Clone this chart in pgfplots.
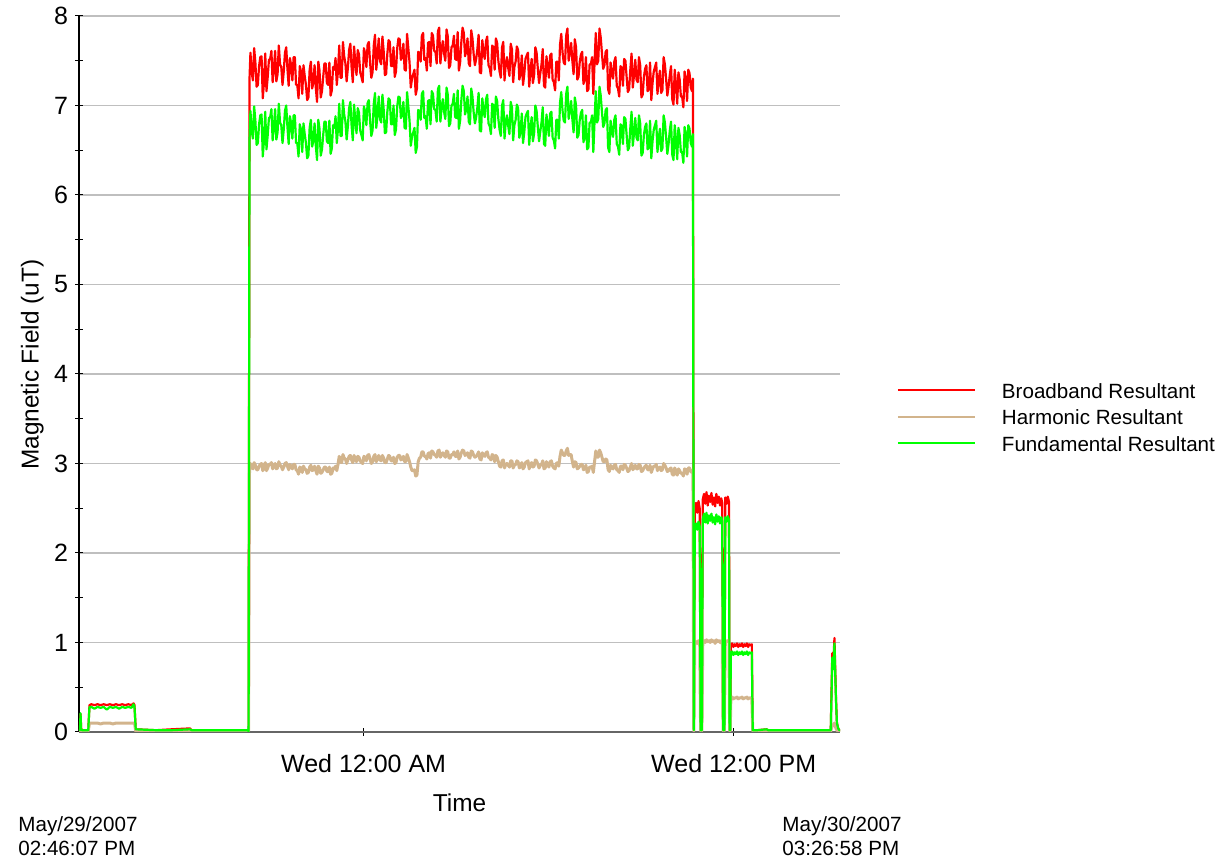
\documentclass[border=0pt]{standalone}
\usepackage{fontspec}
\setmainfont{Liberation Sans}
\usepackage{pgfplots}
\pgfplotsset{compat=1.18}
\usepackage{pgfplotstable}
\definecolor{bbred}{RGB}{255,0,0}
\definecolor{harmtan}{RGB}{210,180,140}
\definecolor{fundgreen}{RGB}{0,255,0}

\pgfplotstableread{
x b h f
0.00 0.03 0.01 0.02
0.01 0.11 0.02 0.05
0.03 0.03 0.01 0.02
0.05 0.20 0.03 0.21
0.07 0.04 0.01 0.03
0.10 0.02 0.01 0.02
0.30 0.02 0.01 0.02
0.34 0.30 0.10 0.28
0.40 0.31 0.10 0.28
0.50 0.30 0.10 0.26
0.60 0.31 0.10 0.28
0.70 0.30 0.09 0.27
0.80 0.31 0.10 0.28
0.90 0.30 0.10 0.25
1.00 0.31 0.10 0.28
1.10 0.30 0.09 0.27
1.20 0.31 0.10 0.28
1.30 0.30 0.10 0.26
1.40 0.31 0.10 0.28
1.50 0.30 0.10 0.27
1.60 0.31 0.10 0.28
1.70 0.30 0.10 0.27
1.77 0.32 0.10 0.31
1.80 0.30 0.10 0.28
1.84 0.03 0.01 0.03
2.50 0.02 0.01 0.02
3.00 0.03 0.01 0.02
3.60 0.04 0.01 0.03
3.65 0.02 0.01 0.02
4.50 0.02 0.01 0.02
5.00 0.02 0.01 0.02
5.47 0.02 0.01 0.02
5.50 0.01 0.01 0.01
5.53 7.30 2.95 6.62
5.56 7.59 3.00 6.94
5.60 7.37 2.96 6.72
5.64 7.28 2.94 6.63
5.68 7.64 3.01 6.99
5.72 7.48 2.98 6.83
5.76 7.21 2.93 6.56
5.80 7.23 2.93 6.58
5.84 7.44 2.97 6.79
5.88 7.54 2.99 6.89
5.92 7.55 3.00 6.90
5.96 7.08 2.92 6.43
6.00 7.26 2.95 6.61
6.04 7.58 3.01 6.93
6.08 7.16 2.92 6.51
6.12 7.32 2.95 6.67
6.16 7.51 2.99 6.86
6.20 7.52 2.99 6.87
6.24 7.61 3.01 6.96
6.28 7.26 2.94 6.61
6.32 7.41 2.97 6.76
6.36 7.61 3.00 6.96
6.40 7.27 2.94 6.62
6.44 7.35 2.95 6.70
6.48 7.67 3.02 7.02
6.52 7.46 2.98 6.81
6.56 7.43 2.97 6.78
6.60 7.23 2.93 6.58
6.64 7.38 2.96 6.73
6.68 7.59 3.00 6.94
6.72 7.65 3.01 7.00
6.76 7.41 2.97 6.76
6.80 7.22 2.93 6.57
6.84 7.53 2.99 6.88
6.88 7.45 2.97 6.80
6.92 7.28 2.94 6.63
6.96 7.54 2.99 6.89
7.00 7.54 2.99 6.89
7.04 7.23 2.93 6.58
7.08 7.23 2.92 6.58
7.12 7.08 2.88 6.43
7.16 7.44 2.96 6.79
7.20 7.38 2.95 6.73
7.24 7.13 2.90 6.48
7.28 7.45 2.97 6.80
7.32 7.33 2.94 6.68
7.36 7.23 2.93 6.58
7.40 7.06 2.89 6.41
7.44 7.09 2.90 6.44
7.48 7.40 2.96 6.75
7.52 7.49 2.98 6.84
7.56 7.19 2.92 6.54
7.60 7.25 2.93 6.60
7.64 7.45 2.97 6.80
7.68 7.20 2.92 6.55
7.72 7.04 2.88 6.39
7.76 7.49 2.97 6.84
7.80 7.39 2.95 6.74
7.84 7.09 2.89 6.44
7.88 7.16 2.90 6.51
7.92 7.32 2.93 6.67
7.96 7.47 2.96 6.82
8.00 7.47 2.96 6.82
8.04 7.25 2.91 6.60
8.08 7.23 2.91 6.58
8.12 7.48 2.96 6.83
8.16 7.11 2.88 6.46
8.20 7.17 2.89 6.52
8.24 7.43 2.95 6.78
8.28 7.40 2.94 6.75
8.32 7.53 2.97 6.88
8.36 7.23 2.92 6.58
8.40 7.39 2.99 6.74
8.44 7.67 3.08 7.02
8.48 7.31 3.02 6.66
8.52 7.31 3.01 6.66
8.56 7.71 3.10 7.06
8.60 7.55 3.06 6.90
8.64 7.47 3.05 6.82
8.68 7.27 3.00 6.62
8.72 7.42 3.04 6.77
8.76 7.62 3.08 6.97
8.80 7.69 3.09 7.04
8.84 7.43 3.04 6.78
8.88 7.26 3.01 6.61
8.92 7.66 3.09 7.01
8.96 7.49 3.05 6.84
9.00 7.34 3.02 6.69
9.04 7.62 3.08 6.97
9.08 7.57 3.07 6.92
9.12 7.37 3.03 6.72
9.16 7.32 3.01 6.67
9.20 7.26 3.00 6.61
9.24 7.64 3.08 6.99
9.28 7.58 3.07 6.93
9.32 7.43 3.03 6.78
9.36 7.68 3.09 7.03
9.40 7.71 3.10 7.06
9.44 7.48 3.05 6.83
9.48 7.31 3.00 6.66
9.52 7.37 3.02 6.72
9.56 7.67 3.08 7.02
9.60 7.79 3.10 7.14
9.64 7.40 3.02 6.75
9.68 7.55 3.05 6.90
9.72 7.75 3.09 7.10
9.76 7.50 3.04 6.85
9.80 7.46 3.03 6.81
9.84 7.77 3.09 7.12
9.88 7.61 3.06 6.96
9.92 7.34 3.01 6.69
9.96 7.35 3.01 6.70
10.00 7.58 3.05 6.93
10.04 7.73 3.09 7.08
10.08 7.71 3.08 7.06
10.12 7.44 3.03 6.79
10.16 7.44 3.03 6.79
10.20 7.65 3.07 7.00
10.24 7.32 3.00 6.67
10.28 7.38 3.01 6.73
10.32 7.64 3.07 6.99
10.36 7.75 3.09 7.10
10.40 7.74 3.09 7.09
10.44 7.51 3.04 6.86
10.48 7.54 3.05 6.89
10.52 7.69 3.08 7.04
10.56 7.40 3.02 6.75
10.60 7.39 3.02 6.74
10.64 7.80 3.10 7.15
10.68 7.64 3.06 6.99
10.72 7.48 3.02 6.83
10.76 7.20 2.96 6.55
10.80 7.30 2.92 6.65
10.84 7.35 2.92 6.70
10.88 7.40 2.93 6.75
10.92 7.12 2.86 6.47
10.96 7.19 2.87 6.54
11.00 7.60 3.02 6.95
11.04 7.59 3.06 6.94
11.08 7.49 3.07 6.84
11.12 7.78 3.13 7.13
11.16 7.81 3.13 7.16
11.20 7.51 3.08 6.86
11.24 7.53 3.08 6.88
11.28 7.39 3.05 6.74
11.32 7.70 3.11 7.05
11.36 7.71 3.12 7.06
11.40 7.44 3.06 6.79
11.44 7.81 3.14 7.16
11.48 7.78 3.13 7.13
11.52 7.61 3.10 6.96
11.56 7.60 3.09 6.95
11.60 7.47 3.07 6.82
11.64 7.83 3.14 7.18
11.68 7.87 3.15 7.22
11.72 7.47 3.07 6.82
11.76 7.63 3.10 6.98
11.80 7.72 3.12 7.07
11.84 7.58 3.09 6.93
11.88 7.50 3.07 6.85
11.92 7.85 3.14 7.20
11.96 7.77 3.13 7.12
12.00 7.42 3.06 6.77
12.04 7.45 3.06 6.80
12.08 7.65 3.10 7.00
12.12 7.67 3.10 7.02
12.16 7.78 3.13 7.13
12.20 7.52 3.08 6.87
12.24 7.51 3.08 6.86
12.28 7.82 3.14 7.17
12.32 7.39 3.05 6.74
12.36 7.48 3.07 6.83
12.40 7.71 3.12 7.06
12.44 7.87 3.15 7.22
12.48 7.81 3.14 7.16
12.52 7.55 3.09 6.90
12.56 7.61 3.10 6.96
12.60 7.75 3.12 7.10
12.64 7.47 3.07 6.82
12.68 7.44 3.06 6.79
12.72 7.84 3.14 7.19
12.76 7.75 3.13 7.10
12.80 7.57 3.09 6.92
12.84 7.45 3.07 6.80
12.88 7.52 3.08 6.87
12.92 7.63 3.10 6.98
12.96 7.79 3.13 7.14
13.00 7.37 3.05 6.72
13.04 7.36 3.04 6.71
13.08 7.73 3.12 7.08
13.12 7.59 3.09 6.94
13.16 7.52 3.08 6.87
13.20 7.72 3.12 7.07
13.24 7.77 3.13 7.12
13.28 7.45 3.07 6.80
13.32 7.42 3.06 6.77
13.36 7.33 3.04 6.68
13.40 7.67 3.10 7.02
13.44 7.65 3.09 7.00
13.48 7.40 3.02 6.75
13.52 7.75 3.09 7.10
13.56 7.70 3.07 7.05
13.60 7.50 3.02 6.85
13.64 7.38 2.97 6.73
13.68 7.31 2.96 6.66
13.72 7.65 3.03 7.00
13.76 7.71 3.04 7.06
13.80 7.28 2.95 6.63
13.84 7.47 2.99 6.82
13.88 7.54 3.00 6.89
13.92 7.42 2.98 6.77
13.96 7.33 2.96 6.68
14.00 7.69 3.03 7.04
14.04 7.63 3.03 6.98
14.08 7.26 2.95 6.61
14.12 7.43 2.98 6.78
14.16 7.49 2.99 6.84
14.20 7.66 3.03 7.01
14.24 7.62 3.02 6.97
14.28 7.29 2.95 6.64
14.32 7.35 2.97 6.70
14.36 7.56 3.01 6.91
14.40 7.23 2.94 6.58
14.44 7.35 2.96 6.70
14.48 7.52 3.01 6.87
14.52 7.56 3.02 6.91
14.56 7.59 3.03 6.94
14.60 7.21 2.94 6.56
14.64 7.39 2.99 6.74
14.68 7.52 3.01 6.87
14.72 7.25 2.96 6.60
14.76 7.34 2.97 6.69
14.80 7.65 3.04 7.00
14.84 7.59 3.03 6.94
14.88 7.41 2.99 6.76
14.92 7.25 2.95 6.60
14.96 7.36 2.98 6.71
15.00 7.46 2.99 6.81
15.04 7.63 3.03 6.98
15.08 7.22 2.94 6.57
15.12 7.20 2.95 6.55
15.16 7.55 3.02 6.90
15.20 7.43 2.99 6.78
15.24 7.31 2.96 6.66
15.28 7.56 3.02 6.91
15.32 7.58 3.03 6.93
15.36 7.29 2.97 6.64
15.40 7.26 2.95 6.61
15.44 7.17 2.94 6.52
15.48 7.49 3.00 6.84
15.52 7.49 3.01 6.84
15.56 7.28 2.97 6.63
15.60 7.68 3.08 7.03
15.64 7.80 3.15 7.15
15.68 7.60 3.12 6.95
15.72 7.48 3.09 6.83
15.76 7.46 3.09 6.81
15.80 7.78 3.14 7.13
15.84 7.86 3.17 7.21
15.88 7.50 3.09 6.85
15.92 7.60 3.10 6.95
15.96 7.70 3.10 7.05
16.00 7.50 3.02 6.85
16.04 7.35 2.96 6.70
16.08 7.74 3.02 7.09
16.12 7.65 3.01 7.00
16.16 7.29 2.94 6.64
16.20 7.32 2.95 6.67
16.24 7.49 2.97 6.84
16.28 7.57 2.99 6.92
16.32 7.60 2.99 6.95
16.36 7.24 2.93 6.59
16.40 7.30 2.94 6.65
16.44 7.54 2.98 6.89
16.48 7.16 2.90 6.51
16.52 7.18 2.91 6.53
16.56 7.46 2.96 6.81
16.60 7.46 2.96 6.81
16.64 7.54 2.97 6.89
16.68 7.13 2.90 6.48
16.72 7.48 3.02 6.83
16.76 7.81 3.14 7.16
16.80 7.46 3.07 6.81
16.84 7.50 3.07 6.85
16.88 7.86 3.15 7.21
16.92 7.76 3.12 7.11
16.96 7.58 3.07 6.93
17.00 7.41 3.02 6.76
17.04 7.45 3.02 6.80
17.08 7.60 3.05 6.95
17.12 7.62 3.04 6.97
17.16 7.18 2.93 6.53
17.20 7.13 2.91 6.48
17.24 7.48 2.98 6.83
17.28 7.36 2.95 6.71
17.32 7.30 2.94 6.65
17.36 7.49 2.98 6.84
17.40 7.54 2.99 6.89
17.44 7.22 2.93 6.57
17.48 7.19 2.92 6.54
17.52 7.10 2.90 6.45
17.56 7.44 2.97 6.79
17.60 7.42 2.97 6.77
17.64 7.22 2.93 6.57
17.68 7.52 2.99 6.87
17.72 7.50 2.98 6.85
17.76 7.32 2.95 6.67
17.80 7.15 2.91 6.50
17.84 7.18 2.92 6.53
17.88 7.40 2.96 6.75
17.92 7.58 3.00 6.93
17.96 7.20 2.93 6.55
18.00 7.34 2.95 6.69
18.04 7.51 2.98 6.86
18.08 7.29 2.94 6.64
18.12 7.26 2.94 6.61
18.16 7.54 2.99 6.89
18.20 7.45 2.98 6.80
18.24 7.09 2.91 6.44
18.28 7.12 2.92 6.47
18.32 7.32 2.95 6.67
18.36 7.41 2.97 6.76
18.40 7.45 2.98 6.80
18.44 7.16 2.93 6.51
18.48 7.18 2.93 6.53
18.52 7.48 2.98 6.83
18.56 7.06 2.90 6.41
18.60 7.25 2.94 6.60
18.64 7.38 2.97 6.73
18.68 7.43 2.97 6.78
18.72 7.48 2.99 6.83
18.76 7.13 2.92 6.48
18.80 7.28 2.95 6.63
18.84 7.39 2.96 6.74
18.88 7.14 2.92 6.49
18.92 7.17 2.93 6.52
18.96 7.54 3.00 6.89
19.00 7.46 2.98 6.81
19.04 7.30 2.95 6.65
19.08 7.11 2.91 6.46
19.12 7.21 2.92 6.57
19.16 7.34 2.94 6.72
19.20 7.44 2.95 6.82
19.24 7.07 2.88 6.45
19.28 7.01 2.87 6.39
19.32 7.40 2.95 6.78
19.36 7.24 2.91 6.62
19.40 7.02 2.87 6.40
19.44 7.37 2.94 6.75
19.48 7.29 2.92 6.67
19.52 7.10 2.89 6.48
19.56 7.10 2.89 6.48
19.60 6.98 2.86 6.36
19.64 7.38 2.94 6.76
19.68 7.30 2.93 6.68
19.72 7.05 2.88 6.43
19.76 7.40 2.95 6.78
19.80 7.36 2.95 6.74
19.84 7.20 2.91 6.58
19.88 7.16 2.90 6.54
19.91 7.30 2.93 6.68
19.94 0.02 0.01 0.02
19.97 2.48 1.00 2.28
20.01 2.56 1.01 2.33
20.05 2.45 0.99 2.26
20.09 2.58 1.02 2.35
20.13 2.50 1.00 2.30
20.16 0.02 0.01 0.02
20.20 0.02 0.01 0.02
20.23 2.60 1.01 2.38
20.27 2.66 1.02 2.44
20.31 2.55 1.00 2.34
20.35 2.68 1.03 2.45
20.39 2.53 1.01 2.33
20.43 2.64 1.02 2.42
20.47 2.57 1.00 2.36
20.51 2.67 1.03 2.44
20.55 2.54 1.01 2.34
20.59 2.62 1.02 2.40
20.63 2.52 0.99 2.32
20.67 2.66 1.03 2.43
20.71 2.56 1.01 2.35
20.75 2.63 1.02 2.41
20.79 2.53 1.00 2.33
20.83 2.61 1.02 2.40
20.86 2.56 1.01 2.36
20.89 0.02 0.01 0.02
20.93 0.02 0.01 0.02
20.96 2.62 1.02 2.40
21.00 2.55 1.01 2.35
21.04 2.63 1.02 2.41
21.08 2.57 1.00 2.37
21.10 0.02 0.01 0.02
21.12 0.02 0.01 0.02
21.14 0.97 0.38 0.88
21.18 0.99 0.39 0.90
21.22 0.95 0.37 0.86
21.26 0.98 0.38 0.89
21.30 0.96 0.38 0.87
21.34 0.99 0.39 0.90
21.38 0.95 0.37 0.86
21.42 0.98 0.38 0.89
21.46 0.96 0.38 0.87
21.50 0.99 0.39 0.90
21.54 0.95 0.37 0.86
21.58 0.98 0.38 0.89
21.62 0.96 0.38 0.87
21.66 0.99 0.39 0.90
21.70 0.95 0.37 0.86
21.74 0.98 0.38 0.89
21.78 0.97 0.38 0.88
21.82 0.98 0.38 0.89
21.85 0.02 0.01 0.02
22.00 0.02 0.01 0.02
22.30 0.03 0.01 0.03
22.35 0.02 0.01 0.02
23.00 0.02 0.01 0.02
23.50 0.02 0.01 0.02
24.00 0.02 0.01 0.02
24.38 0.02 0.01 0.02
24.41 0.55 0.05 0.50
24.43 0.88 0.08 0.83
24.46 0.75 0.07 0.70
24.50 1.05 0.10 0.99
24.55 0.37 0.04 0.35
24.58 0.10 0.02 0.10
24.62 0.04 0.01 0.04
24.66 0.02 0.01 0.02
24.68 0.02 0.01 0.02
}\datatable

\begin{document}
\begin{tikzpicture}
\useasboundingbox (-39.5pt,-64pt) rectangle (570.5pt,366pt);
\begin{axis}[
  at={(0pt,0pt)}, anchor=south west,
  scale only axis, width=380.5pt, height=358pt,
  xmin=0, xmax=24.68, ymin=0, ymax=8,
  axis lines*=left,
  x axis line style={draw=black!60, line width=0.6pt},
  y axis line style={draw=black, line width=0.6pt},
  xtick={9.2314,21.2314},
  xticklabels={Wed 12:00 AM, Wed 12:00 PM},
  ytick={0,1,...,8},
  minor ytick={0.5,1.5,...,7.5},
  tick align=center,
  major tick length=3.8pt,
  minor tick length=3.8pt,
  tick style={black, line width=0.5pt},
  ymajorgrids,
  grid style={draw=black!25, line width=0.6pt},
  /pgf/number format/assume math mode=true,
  tick label style={font=\fontsize{12.5}{14}\selectfont},
  xticklabel style={anchor=base, yshift=-18.5pt},
  label style={font=\fontsize{12.2}{14}\selectfont},
  xlabel={Time},
  ylabel={Magnetic Field (uT)},
  xlabel style={at={(axis description cs:0.5,-0.1117)}, anchor=base},
  ylabel style={at={(axis description cs:-0.0530,0.513)}, anchor=base},
  legend style={at={(axis description cs:1.0743,0.44)}, anchor=west,
    draw=none, fill=none, inner sep=0pt, row sep=5.65pt,
    font=\fontsize{10.3}{12}\selectfont,
    cells={anchor=west},
    nodes={inner sep=0pt, text depth=0pt, text height=7.6pt},
    /tikz/every odd column/.append style={column sep=13pt}},
  every axis plot/.append style={line width=1.1pt, line join=round, mark=none},
]
\addplot[color=bbred, forget plot] table[x=x,y=b]{\datatable};
\addplot[color=harmtan, line width=1.5pt, forget plot] table[x=x,y=h]{\datatable};
\addplot[color=fundgreen, forget plot] table[x=x,y=f]{\datatable};
\addlegendimage{legend image code/.code={\draw[bbred, line width=1pt] (0pt,0pt) -- (38.5pt,0pt);}}
\addlegendentry{Broadband Resultant}
\addlegendimage{legend image code/.code={\draw[harmtan, line width=1pt] (0pt,0pt) -- (38.5pt,0pt);}}
\addlegendentry{Harmonic Resultant}
\addlegendimage{legend image code/.code={\draw[fundgreen, line width=1pt] (0pt,0pt) -- (38.5pt,0pt);}}
\addlegendentry{Fundamental Resultant}
\end{axis}
\node[anchor=base west, inner sep=0pt, font=\fontsize{10.3}{12}\selectfont] at (-30.5pt,-50pt) {May/29/2007};
\node[anchor=base west, inner sep=0pt, font=\fontsize{10.3}{12}\selectfont] at (-30.5pt,-62pt) {02:46:07 PM};
\node[anchor=base west, inner sep=0pt, font=\fontsize{10.3}{12}\selectfont] at (351.5pt,-50pt) {May/30/2007};
\node[anchor=base west, inner sep=0pt, font=\fontsize{10.3}{12}\selectfont] at (351.5pt,-62pt) {03:26:58 PM};
\end{tikzpicture}
\end{document}
